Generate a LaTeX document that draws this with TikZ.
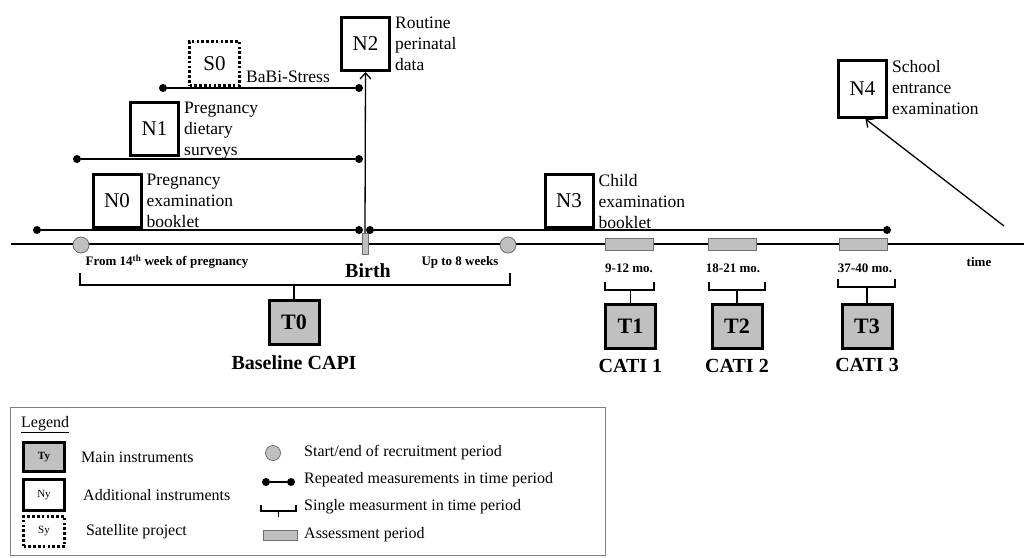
\documentclass[tikz,border=0pt]{standalone}
\usepackage{fontspec}
\setmainfont{Liberation Serif}
\usepackage{tikz}
\usetikzlibrary{arrows.meta, positioning, calc}
\definecolor{cohortgray}{HTML}{C0C0C0}
\definecolor{edgegray}{HTML}{6E6E6E}
\definecolor{framegray}{HTML}{808080}

\begin{document}
\begin{tikzpicture}[x=1pt, y=-1pt,
    addbox/.style={rectangle, draw=black, line width=3pt, fill=white, minimum width=48pt, minimum height=53pt, inner sep=0pt, font=\fontsize{21}{24}\selectfont},
    satbox/.style={addbox, dash pattern=on 2.6pt off 2.2pt, line width=2.6pt, minimum width=50pt, minimum height=44pt},
    mainbox/.style={addbox, fill=cohortgray, minimum width=50pt, minimum height=44pt, font=\fontsize{22}{24}\selectfont\bfseries},
    side/.style={inner sep=0pt, align=left, font=\fontsize{17.5}{21}\selectfont},
    dot/.style={circle, fill=black, inner sep=0pt, minimum size=8pt},
    rep/.style={line width=1.3pt},
    recruit/.style={circle, draw=edgegray, fill=cohortgray, line width=0.8pt, minimum size=16pt, inner sep=0pt},
    assess/.style={rectangle, draw=edgegray, fill=cohortgray, line width=0.8pt, minimum width=48pt, minimum height=12pt, inner sep=0pt},
    small/.style={inner sep=0pt, font=\fontsize{13}{15}\selectfont\bfseries},
    wave/.style={inner sep=0pt, font=\fontsize{20}{22}\selectfont\bfseries},
    pointer/.style={-{Straight Barb[length=6pt, width=11pt]}, line width=1.3pt},
    bracket/.style={line width=1.3pt},
    legtext/.style={anchor=west, inner sep=0pt, font=\fontsize{16}{18}\selectfont}
]
\useasboundingbox (0,0) rectangle (1024,557);

% Time axis
\coordinate (axl) at (11,244);
\coordinate (axr) at (1030,244);
\draw[rep] (axl) -- (axr);
\node[recruit] (rs) at (81,245) {};
\node[recruit] (re) at (508,245) {};
\node[rectangle, draw=edgegray, fill=cohortgray, line width=0.8pt, minimum width=6pt, minimum height=21pt, inner sep=0pt] (birth) at (365,244) {};
\node[assess] (a1) at (629,244) {};
\node[assess] (a2) at (732.5,244) {};
\node[assess] (a3) at (863,244) {};

% Labels under the axis
\node[small] (lfrom) at (167,262) {From 14\textsuperscript{th} week of pregnancy};
\node[wave] (lbirth) at (368,271) {Birth};
\node[small] (lup) at (460,262) {Up to 8 weeks};
\node[small] (l1) at (629,268) {9-12 mo.};
\node[small] (l2) at (733,268) {18-21 mo.};
\node[small] (l3) at (865,268) {37-40 mo.};
\node[small] (ltime) at (979,262) {time};

% Repeated measurements
\node[dot] (s0a) at (163,88) {};
\node[dot] (s0b) at (359,88) {};
\node[dot] (n1a) at (77,159) {};
\node[dot] (n1b) at (359,159) {};
\node[dot] (n0a) at (37,230) {};
\node[dot] (n0b) at (359,230) {};
\node[dot] (n3a) at (370,230) {};
\node[dot] (n3b) at (887,230) {};
\draw[rep] (s0a) -- (s0b);
\draw[rep] (n1a) -- (n1b);
\draw[rep] (n0a) -- (n0b);
\draw[rep] (n3a) -- (n3b);

% Additional instruments and satellite project
\node[satbox] (S0) at (214.5,63.5) {S0};
\node[addbox] (N0) at (117,200.5) {N0};
\node[addbox] (N1) at (154.5,128.5) {N1};
\node[addbox] (N2) at (365.5,44) {N2};
\node[addbox] (N3) at (569,201) {N3};
\node[addbox, minimum height=57pt] (N4) at (862.5,89) {N4};
\node[side, anchor=west] (S0txt) at (246,77) {BaBi-Stress};
\node[side, below right=1pt and 4pt of N0.north east] (N0txt) {Pregnancy\\examination\\booklet};
\node[side, below right=1pt and 4pt of N1.north east] (N1txt) {Pregnancy\\dietary\\surveys};
\node[side, below right=1pt and 4pt of N2.north east] (N2txt) {Routine\\perinatal\\data};
\node[side, below right=1pt and 4pt of N3.north east] (N3txt) {Child\\examination\\booklet};
\node[side, below right=1pt and 4pt of N4.north east] (N4txt) {School\\entrance\\examination};

% Links to later data
\draw[pointer] (birth.north) -- (N2.south);
\coordinate (n4tail) at (1004,226);
\draw[pointer] (n4tail) -- ([xshift=3pt]N4.south);

% Main instruments
\node[mainbox] (T0) at (294,322.5) {T0};
\node[mainbox] (T1) at (630.5,326.5) {T1};
\node[mainbox] (T2) at (737,326.5) {T2};
\node[mainbox] (T3) at (867,326) {T3};
\node[wave, below=9pt of T0] (T0txt) {Baseline CAPI};
\node[wave, below=9pt of T1] (T1txt) {CATI 1};
\node[wave, below=9pt of T2] (T2txt) {CATI 2};
\node[wave, below=9pt of T3] (T3txt) {CATI 3};

% Brackets
\draw[bracket] (80,273) -- (80,285) -- (510,285) -- (510,273);
\coordinate (b0) at (294,285);
\draw[bracket] (b0) -- (T0.north);
\draw[bracket] (605,282) -- (605,290) -- (654,290) -- (654,282);
\coordinate (b1) at (630.5,290);
\draw[bracket] (b1) -- (T1.north);
\draw[bracket] (709,282) -- (709,290) -- (765,290) -- (765,282);
\coordinate (b2) at (737,290);
\draw[bracket] (b2) -- (T2.north);
\draw[bracket] (838,279) -- (838,287) -- (895,287) -- (895,279);
\coordinate (b3) at (867,287);
\draw[bracket] (b3) -- (T3.north);

% Legend
\draw[framegray, line width=1pt] (10,407) rectangle (605,555);
\node[legtext] (legtitle) at (21,425) {\underline{Legend}};
\node[mainbox, minimum width=41pt, minimum height=29pt, font=\fontsize{11}{12}\selectfont\bfseries] (Ty) at (44,457) {Ty};
\node[addbox, minimum width=41pt, minimum height=31pt, font=\fontsize{11}{12}\selectfont] (Ny) at (44,495) {Ny};
\node[satbox, minimum width=41pt, minimum height=30pt, font=\fontsize{11}{12}\selectfont] (Sy) at (44,531.5) {Sy};
\node[legtext, right=15pt of Ty] (Tytxt) {Main instruments};
\node[legtext, right=17pt of Ny] (Nytxt) {Additional instruments};
\node[legtext, right=20pt of Sy] (Sytxt) {Satellite project};
\node[recruit, minimum size=15pt] (lrec) at (273,453) {};
\node[legtext] (lrectxt) at (304,453) {Start/end of recruitment period};
\node[dot] (lda) at (266,482) {};
\node[dot] (ldb) at (291,482) {};
\draw[rep] (lda) -- (ldb);
\node[legtext] (ldtxt) at (304,480) {Repeated measurements in time period};
\draw[bracket] (261,505) -- (261,511) -- (296,511) -- (296,505);
\coordinate (lbm) at (278.5,511);
\coordinate (lbt) at (278.5,517);
\draw[bracket] (lbm) -- (lbt);
\node[legtext] (lbtxt) at (304,507) {Single measurment in time period};
\node[assess, minimum width=34pt, minimum height=10pt] (lass) at (280,535) {};
\node[legtext] (lasstxt) at (304,535) {Assessment period};

\end{tikzpicture}
\end{document}
